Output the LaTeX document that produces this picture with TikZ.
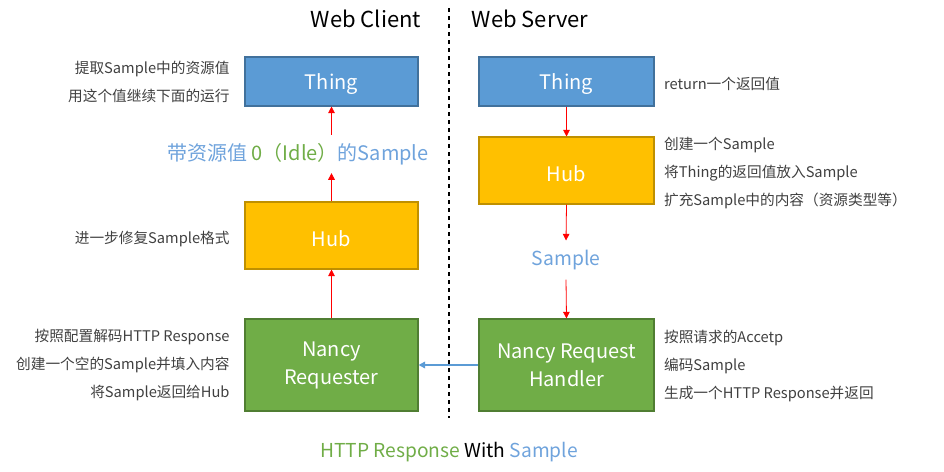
\documentclass[tikz,border=0pt]{standalone}
\usepackage{fontspec}
\setmainfont{Noto Sans CJK SC}
\usetikzlibrary{arrows.meta,positioning}
\definecolor{thingfill}{HTML}{5B9BD5}
\definecolor{thingline}{HTML}{41719C}
\definecolor{hubfill}{HTML}{FFC000}
\definecolor{hubline}{HTML}{BF9000}
\definecolor{nancyfill}{HTML}{70AD47}
\definecolor{nancyline}{HTML}{507E32}
\definecolor{samplecol}{HTML}{6FA3DC}
\definecolor{idlecol}{HTML}{70AD47}
\definecolor{notecol}{HTML}{404040}

\begin{document}
\begin{tikzpicture}[x=0.75pt, y=-0.75pt,
  box/.style={draw, line width=0.8pt, text=white, inner sep=0pt, align=center,
    font=\fontsize{15}{21}\selectfont, execute at begin node={\rule{0pt}{16pt}}},
  thing/.style={box, fill=thingfill, draw=thingline, minimum height=36.75pt},
  hub/.style={box, fill=hubfill, draw=hubline, minimum height=50.25pt},
  nancy/.style={box, fill=nancyfill, draw=nancyline, minimum height=69pt,
    execute at begin node={\rule{0pt}{21pt}}},
  note/.style={text=notecol, inner sep=0pt, font=\fontsize{11}{21}\selectfont},
  flow/.style={red, line width=0.6pt, -{Triangle[width=5pt,length=5pt]}},
  back/.style={thingfill, line width=1.2pt, -{Triangle[width=5pt,length=5pt]}}]
\useasboundingbox (0,0) rectangle (944,471);
\def\cx{331.5}
\def\sx{566.5}

% titles and the dividing line
\node[font=\fontsize{16.5}{20}\selectfont] (clientTitle) at (366,19) {Web Client};
\node[font=\fontsize{16.5}{20}\selectfont] (serverTitle) at (530,19) {Web Server};
\draw[dashed, line width=0.9pt] (449,8) -- (449,418);

% web client
\node[thing, minimum width=129.75pt] (cThing) at (\cx,81.5) {Thing};
\node[hub, minimum width=129.75pt] (cHub) at (\cx,235.5) {Hub};
\node[nancy, minimum width=129.75pt] (cNancy) at (\cx,365) {Nancy\\Requester};
\node[samplecol, inner xsep=0pt, inner ysep=6pt, font=\fontsize{15}{18}\selectfont]
  (cSample) at (298,154) {带资源值 \textcolor{idlecol}{0（Idle）}的Sample};

\node[note, align=right, left=11pt of cThing] (cThingNote) {提取Sample中的资源值\\用这个值继续下面的运行};
\node[note, align=right, left=11pt of cHub, yshift=-3pt] (cHubNote) {进一步修复Sample格式};
\node[note, align=right, left=11pt of cNancy] (cNancyNote) {按照配置解码HTTP Response\\创建一个空的Sample并填入内容\\将Sample返回给Hub};

\draw[flow] (cNancy.north) -- (cHub.south);
\draw[flow] (cHub.north) -- (cHub.north |- cSample.south);
\draw[flow] (cThing.south |- cSample.north) -- (cThing.south);

% web server
\node[thing, minimum width=131.25pt] (sThing) at (\sx,81.5) {Thing};
\node[hub, minimum width=131.25pt] (sHub) at (\sx,170.5) {Hub};
\node[nancy, minimum width=131.25pt] (sNancy) at (\sx,365) {Nancy Request\\Handler};
\node[samplecol, inner xsep=0pt, inner ysep=7pt, font=\fontsize{14.5}{17}\selectfont]
  (sSample) at (566,260) {Sample};

\node[note, align=left, right=7pt of sThing, yshift=-2pt] (sThingNote) {return一个返回值};
\node[note, align=left, right=7pt of sHub, yshift=-2pt] (sHubNote) {创建一个Sample\\将Thing的返回值放入Sample\\扩充Sample中的内容（资源类型等）};
\node[note, align=left, right=7pt of sNancy, yshift=-1pt] (sNancyNote) {按照请求的Accetp\\编码Sample\\生成一个HTTP Response并返回};

\draw[flow] (sThing.south) -- (sHub.north);
\draw[flow] (sHub.south) -- (sSample.north);
\draw[flow] (sSample.south) -- (sNancy.north);

% response going back
\draw[back] (sNancy.west) -- (cNancy.east);
\node[font=\fontsize{14.4}{17}\selectfont] (response) at (449,452)
  {\textcolor{idlecol}{HTTP Response} With \textcolor{samplecol}{Sample}};
\end{tikzpicture}
\end{document}
